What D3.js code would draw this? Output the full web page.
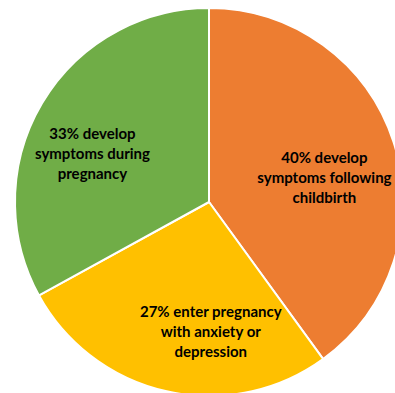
<!DOCTYPE html>
<html>
<head>
<meta charset="utf-8">
<script src="https://cdn.jsdelivr.net/npm/d3@7"></script>
<style>
  body { margin: 0; background: #fff; }
  svg { display: block; }
</style>
</head>
<body>
<script>
// Chart data
var categories = ["Following childbirth", "Enter pregnancy", "During pregnancy"];
var values = [40, 27, 33];
var colors = ["#ED7D31", "#FFC000", "#70AD47"];
var labelLines = [
  ["40% develop", "symptoms following", "childbirth"],
  ["27% enter pregnancy", "with anxiety or", "depression"],
  ["33% develop", "symptoms during", "pregnancy"]
];

var width = 395, height = 393;
var cx = 209, cy = 202, radius = 194;

var svg = d3.select("body").append("svg")
    .attr("width", width)
    .attr("height", height);

var g = svg.append("g")
    .attr("transform", "translate(" + cx + "," + cy + ")");

var pie = d3.pie().sort(null).value(function (d) { return d; });
var arcs = pie(values);

var arc = d3.arc().innerRadius(0).outerRadius(radius);
var labelArc = d3.arc().innerRadius(radius * 0.62).outerRadius(radius * 0.62);

// Slices
g.selectAll("path.slice")
    .data(arcs)
    .enter().append("path")
    .attr("class", "slice")
    .attr("d", arc)
    .attr("fill", function (d, i) { return colors[i]; })
    .attr("stroke", "#fff")
    .attr("stroke-width", 2)
    .attr("stroke-linejoin", "round");

// Excel "best fit" places labels a bit away from the centroid
var nudge = [[1, 13], [28, 12], [-13, 13]];

var labels = g.selectAll("text.label")
    .data(arcs)
    .enter().append("text")
    .attr("class", "label")
    .attr("text-anchor", "middle")
    .style("font-family", "Lato, 'Open Sans', sans-serif")
    .style("font-weight", "bold")
    .style("font-size", "15px")
    .attr("fill", "#000")
    .attr("transform", function (d, i) {
      var c = labelArc.centroid(d);
      return "translate(" + (c[0] + nudge[i][0]) + "," + (c[1] + nudge[i][1]) + ")";
    });

labels.selectAll("tspan")
    .data(function (d, i) { return labelLines[i]; })
    .enter().append("tspan")
    .attr("x", 0)
    .attr("y", function (d, j, nodes) { return (j - (nodes.length - 1) / 2) * 20; })
    .attr("dy", "0.35em")
    .text(function (d) { return d; });
</script>
</body>
</html>
